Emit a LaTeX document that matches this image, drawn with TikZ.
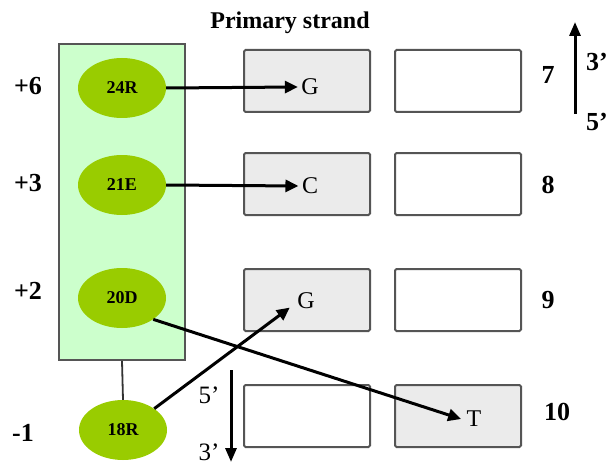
\documentclass[tikz,border=0pt]{standalone}
\usepackage{fontspec}
\setmainfont{Liberation Serif}
\usetikzlibrary{arrows.meta,shapes.geometric}
\definecolor{panelgreen}{HTML}{CCFFCC}
\definecolor{olive}{HTML}{99CC00}
\definecolor{boxgray}{HTML}{EBEBEB}
\definecolor{edgegray}{HTML}{555555}
\tikzset{
  res/.style={ellipse, fill=olive, minimum width=88pt, minimum height=60pt, inner sep=0pt, font=\fontsize{18}{18}\selectfont\bfseries},
  basebox/.style={draw=edgegray, line width=2pt, rounded corners=1.5pt, minimum width=126pt, minimum height=62pt, inner sep=0pt},
  grayb/.style={basebox, fill=boxgray},
  whiteb/.style={basebox, fill=white},
  lab/.style={font=\fontsize{26}{26}\selectfont\bfseries},
  base/.style={font=\fontsize{24}{24}\selectfont},
  prime/.style={font=\fontsize{25}{25}\selectfont},
  conn/.style={line width=3pt, -{Triangle[length=13pt,width=12pt]}},
}
\begin{document}
\begin{tikzpicture}[x=1pt,y=-1pt]
\useasboundingbox (0,0) rectangle (609,465);
% title
\node[font=\fontsize{24}{24}\selectfont\bfseries] (title) at (290,23) {Primary strand};
% green panel
\node[draw=edgegray, line width=1.8pt, fill=panelgreen, minimum width=126pt, minimum height=316pt, inner sep=0pt] (panel) at (122,202) {};
% residues
\node[res] (r24) at (122,88) {24R};
\node[res] (r21) at (122,185) {21E};
\node[res] (r20) at (122,298) {20D};
\node[res] (r18) at (123,430) {18R};
\draw[line width=1.8pt, draw=black!80] (panel.south) -- (r18.north);
% left labels
\node[lab] (p6) at (28,86) {+6};
\node[lab] (p3) at (28,183) {+3};
\node[lab] (p2) at (28,291) {+2};
\node[lab] (m1) at (23,433) {-1};
% boxes
\node[grayb] (b7a) at (307,81) {};
\node[whiteb] (b7b) at (458,81) {};
\node[grayb] (b8a) at (307,184) {};
\node[whiteb] (b8b) at (458,184) {};
\node[grayb] (b9a) at (307,300) {};
\node[whiteb] (b9b) at (458,300) {};
\node[whiteb] (b10a) at (307,416) {};
\node[grayb] (b10b) at (458,416) {};
% base letters
\node[base] (g7) at (310,87) {G};
\node[base] (c8) at (310,186) {C};
\node[base] (g9) at (306,301) {G};
\node[base] (t10) at (474,419) {T};
% numbers
\node[lab] (n7) at (548,75) {7};
\node[lab] (n8) at (548,185) {8};
\node[lab] (n9) at (548,300) {9};
\node[lab] (n10) at (557,412) {10};
% direction arrows
\coordinate (u1) at (575,114);
\coordinate (u2) at (575,22);
\draw[line width=3pt, -{Triangle[length=14pt,width=11pt]}] (u1) -- (u2);
\node[lab, anchor=east, inner sep=1pt] (t3) at (609,62) {3'};
\node[lab, anchor=east, inner sep=1pt] (t5) at (609,122) {5'};
\coordinate (d1) at (231,370);
\coordinate (d2) at (231,462);
\draw[line width=3pt, -{Triangle[length=14pt,width=11pt]}] (d1) -- (d2);
\node[prime, anchor=east] (s5) at (223,395) {5’};
\node[prime, anchor=east] (s3) at (223,452) {3’};
% connectors
\draw[conn] (r24.east) -- (g7.west);
\draw[conn] (r21.east) -- (c8.west);
\draw[conn] (r18.north east) -- ([xshift=-4pt,yshift=5pt]g9.south west);
\draw[conn] (r20.south east) -- ([xshift=-2pt]t10.west);
\end{tikzpicture}
\end{document}
